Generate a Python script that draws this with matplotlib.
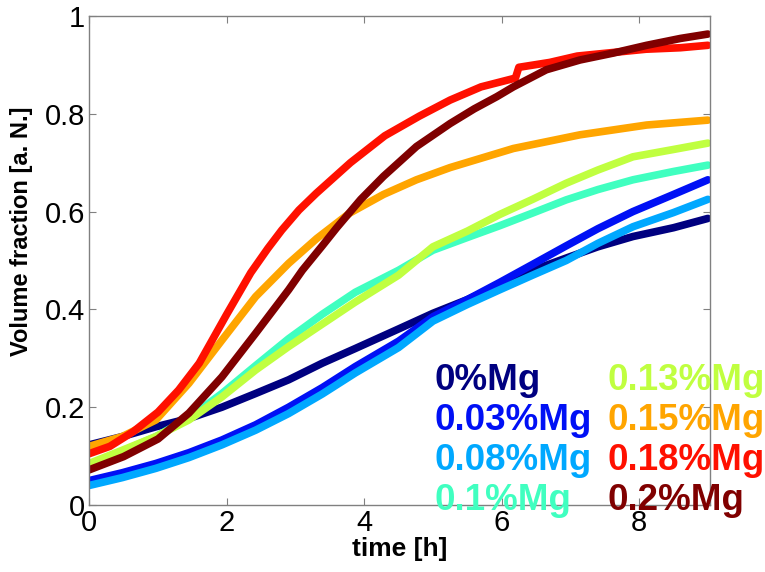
import numpy as np
import matplotlib.pyplot as plt

plt.rcParams['font.family'] = ['Liberation Sans', 'DejaVu Sans']

labels = ['0%Mg', '0.03%Mg', '0.08%Mg', '0.1%Mg', '0.13%Mg', '0.15%Mg', '0.18%Mg', '0.2%Mg']
colors = ['#000080', '#0010F5', '#00A8FF', '#40FFC0', '#C0FF40', '#FFA500', '#FF1000', '#800000']

t_std = [0, 0.48, 0.97, 1.45, 1.93, 2.42, 2.9, 3.39, 3.87, 4.5, 5.0, 5.5, 5.97, 6.45, 6.94, 7.4, 7.91, 8.5, 9.0]

v_0 = [0.123, 0.14, 0.16, 0.177, 0.2, 0.228, 0.256, 0.29, 0.32, 0.36, 0.392, 0.42,
       0.45, 0.48, 0.505, 0.528, 0.549, 0.567, 0.586]
v_003 = [0.05, 0.066, 0.085, 0.107, 0.133, 0.164, 0.2, 0.24, 0.283, 0.335, 0.385, 0.42,
         0.455, 0.492, 0.53, 0.565, 0.6, 0.635, 0.665]
v_008 = [0.04, 0.056, 0.075, 0.097, 0.123, 0.153, 0.187, 0.227, 0.27, 0.322, 0.376, 0.41,
         0.44, 0.47, 0.5, 0.535, 0.569, 0.598, 0.625]
v_01 = [0.08, 0.11, 0.14, 0.178, 0.228, 0.285, 0.34, 0.39, 0.435, 0.48, 0.521, 0.547,
        0.571, 0.597, 0.624, 0.645, 0.665, 0.682, 0.695]
v_013 = [0.085, 0.112, 0.14, 0.174, 0.221, 0.276, 0.324, 0.37, 0.415, 0.47, 0.528, 0.56,
         0.594, 0.625, 0.658, 0.685, 0.712, 0.727, 0.74]

t_015 = [0, 0.48, 0.97, 1.45, 1.93, 2.42, 2.9, 3.31, 3.79, 4.28, 4.76, 5.25, 6.17, 7.14, 8.11, 9.0]
v_015 = [0.12, 0.14, 0.174, 0.249, 0.337, 0.426, 0.494, 0.545, 0.597, 0.635, 0.665, 0.69,
         0.729, 0.757, 0.777, 0.787]

t_018 = [0, 0.3, 0.64, 1.0, 1.3, 1.6, 1.8, 2.0, 2.35, 2.6, 2.8, 3.05, 3.3, 3.8, 4.3, 4.8,
         5.25, 5.7, 6.2, 6.25, 6.7, 7.1, 7.6, 8.1, 8.6, 9.0]
v_018 = [0.105, 0.12, 0.15, 0.19, 0.235, 0.29, 0.34, 0.39, 0.475, 0.525, 0.562, 0.603, 0.637,
         0.70, 0.755, 0.795, 0.828, 0.855, 0.873, 0.895, 0.905, 0.918, 0.925, 0.932, 0.935, 0.94]

t_02 = [0, 0.5, 1.0, 1.45, 1.93, 2.42, 2.9, 3.1, 3.39, 3.6, 3.95, 4.28, 4.76, 5.25, 5.6,
        5.93, 6.17, 6.65, 7.14, 7.62, 8.11, 8.6, 9.0]
v_02 = [0.072, 0.099, 0.135, 0.188, 0.262, 0.351, 0.44, 0.48, 0.53, 0.567, 0.625, 0.672,
        0.733, 0.78, 0.81, 0.835, 0.855, 0.89, 0.91, 0.924, 0.94, 0.954, 0.963]

series = [(t_std, v_0), (t_std, v_003), (t_std, v_008), (t_std, v_01), (t_std, v_013),
          (t_015, v_015), (t_018, v_018), (t_02, v_02)]

fig = plt.figure(figsize=(7.65, 5.72), dpi=100)
ax = fig.add_axes([0.1167, 0.1171, 0.8113, 0.855])

for (t, v), c in zip(series, colors):
    ax.plot(t, v, '-', color=c, lw=5.5, solid_capstyle='round', solid_joinstyle='round')

ax.set_xlim(0, 9.03)
ax.set_ylim(0, 1)
ax.set_xticks([0, 2, 4, 6, 8])
ax.set_yticks([0, 0.2, 0.4, 0.6, 0.8, 1])
ax.set_xticklabels(['0', '2', '4', '6', '8'])
ax.set_yticklabels(['0', '0.2', '0.4', '0.6', '0.8', '1'])
ax.tick_params(direction='in', length=5, width=0.8, color='#808080', labelsize=21,
               top=True, right=True, pad=3)
for s in ax.spines.values():
    s.set_color('#808080')
    s.set_linewidth(1.0)

ax.set_xlabel('time [h]', fontsize=19, fontweight='bold', labelpad=0)
ax.set_ylabel('Volume fraction [a. N.]', fontsize=17, fontweight='bold')
ax.yaxis.set_label_coords(-0.09, 0.56)

# colored legend text
col_x = [5.03, 7.54]
row_y = [0.235, 0.153, 0.072, -0.010]
for i, (lab, c) in enumerate(zip(labels, colors)):
    ax.text(col_x[i // 4], row_y[i % 4], lab, color=c, fontsize=26.5, fontweight='bold',
            va='baseline', ha='left', clip_on=False)

fig.savefig('out.png', dpi=100)
